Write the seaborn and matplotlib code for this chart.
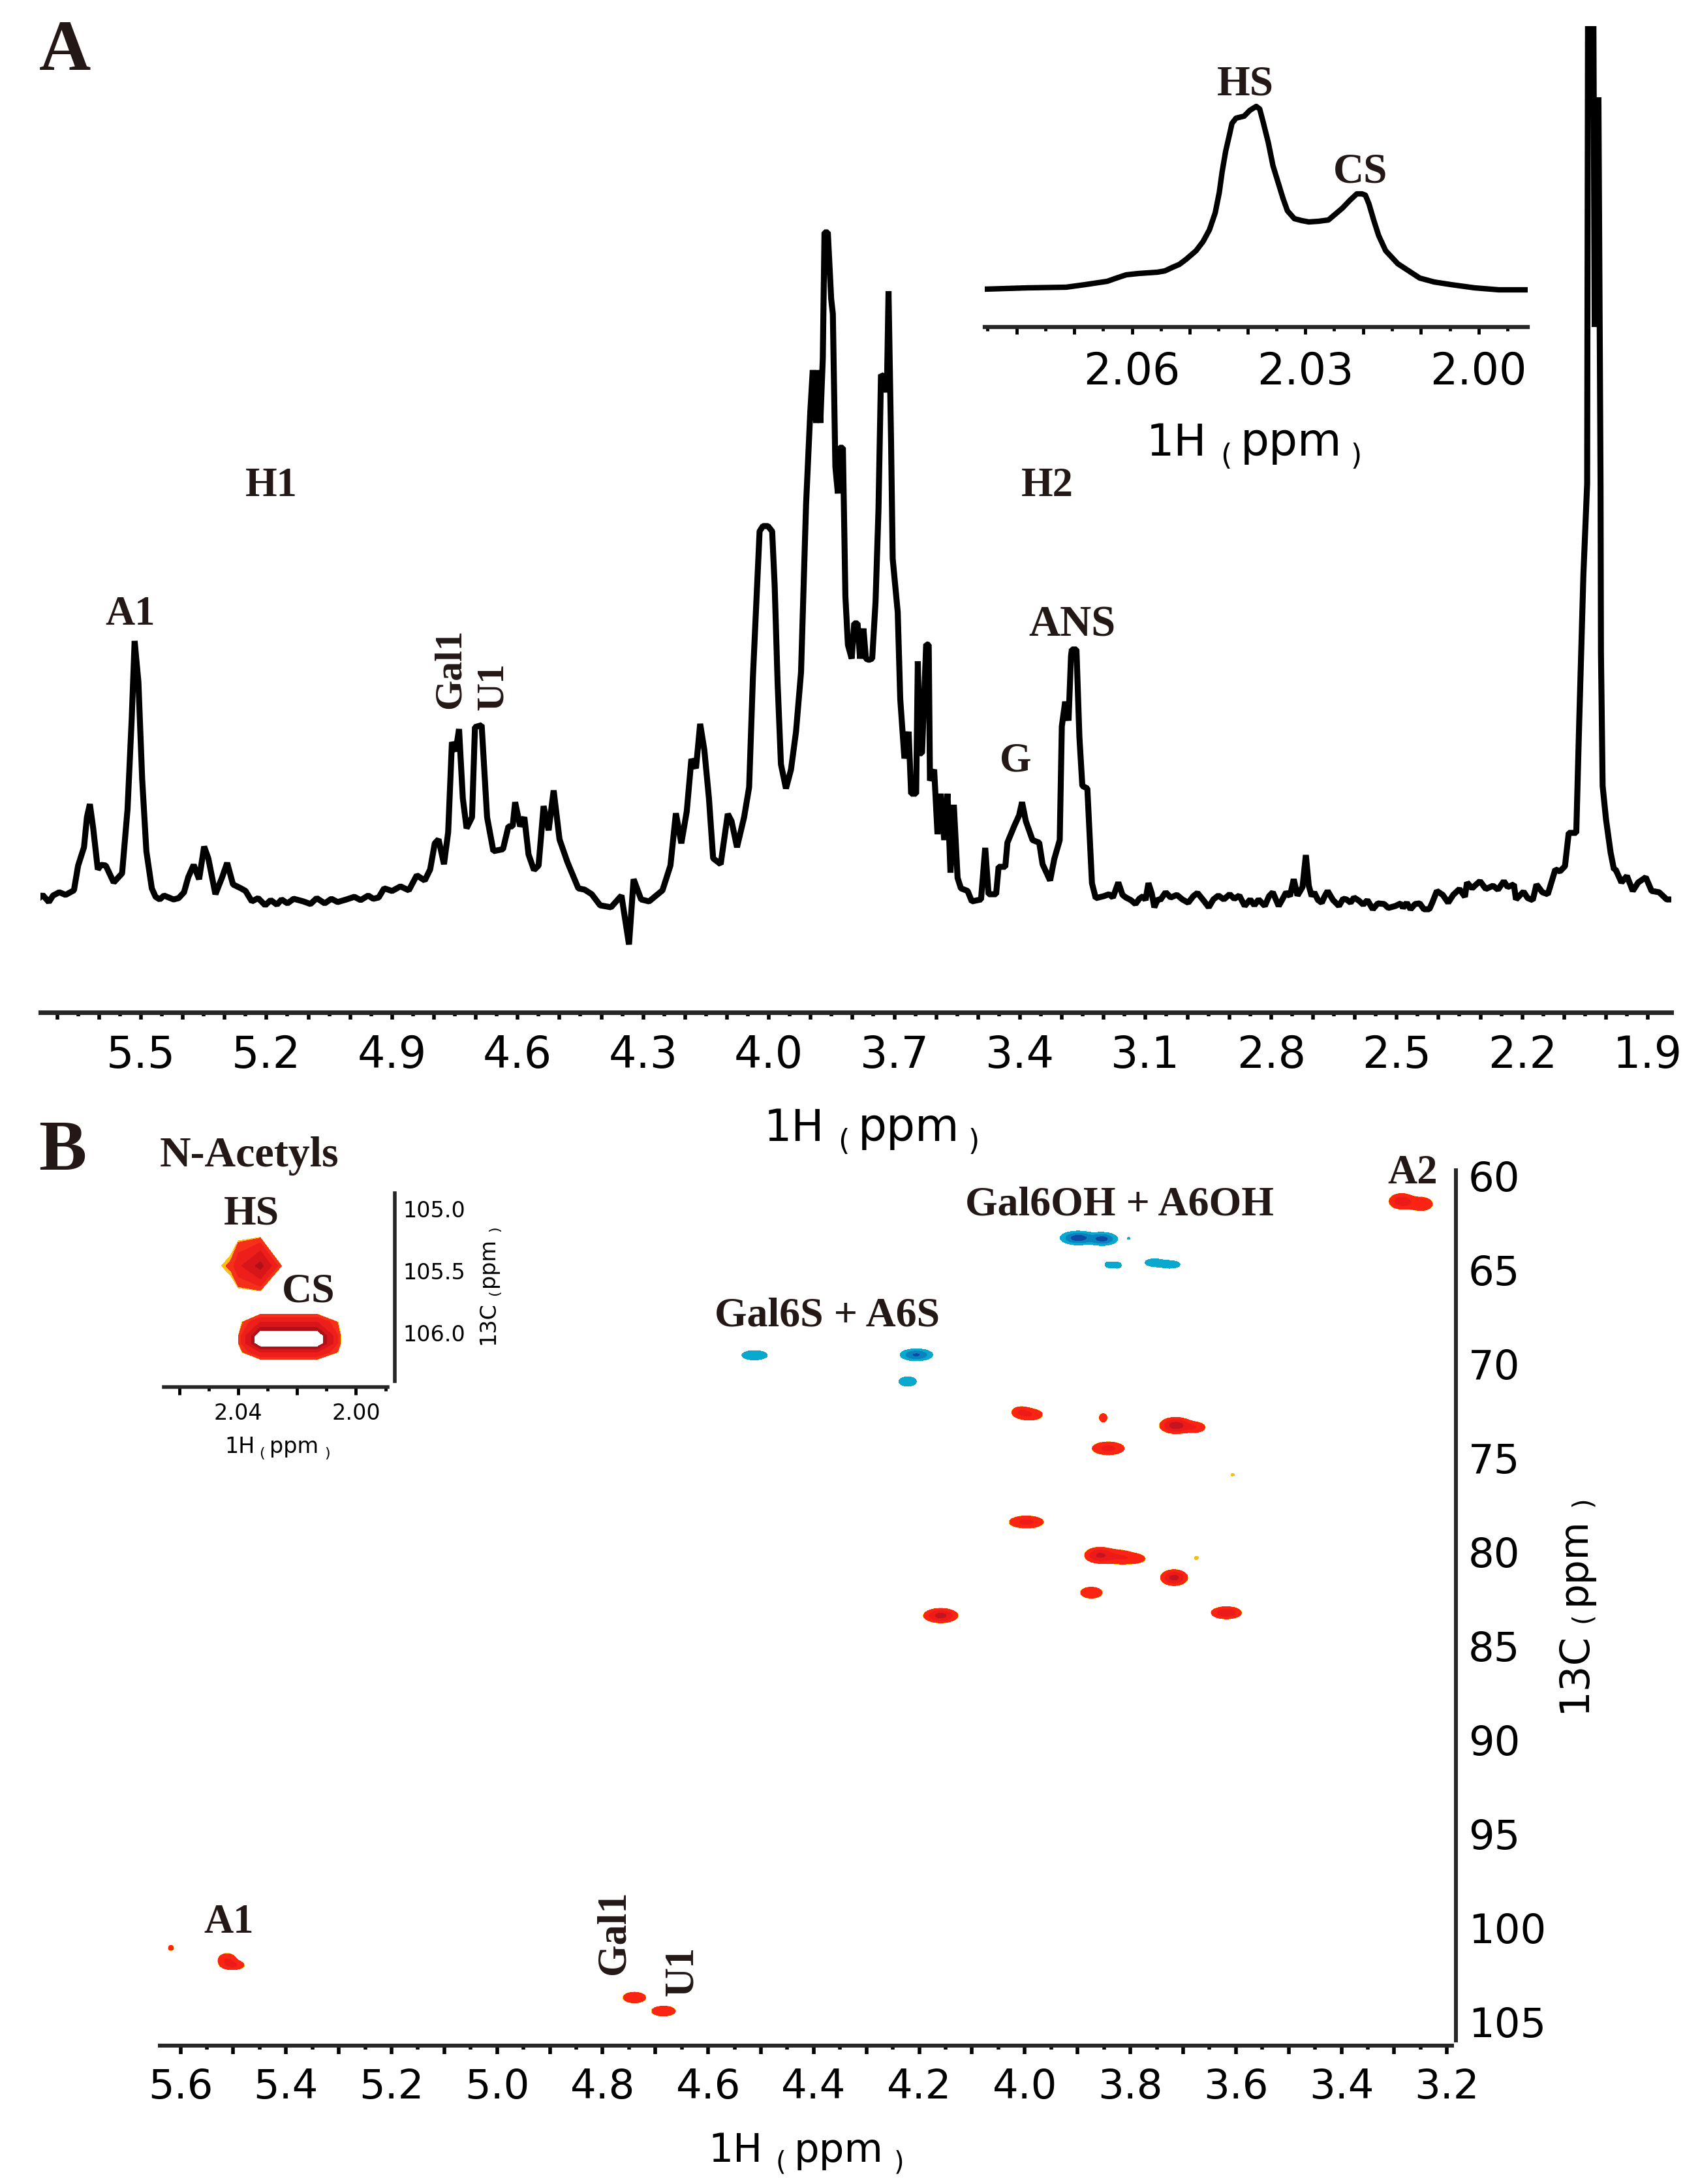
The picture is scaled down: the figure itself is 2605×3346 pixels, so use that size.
"""Recreate the 1H spectrum and 1H-13C HSQC figure."""
import matplotlib.pyplot as plt
import numpy as np
import seaborn as sns
from matplotlib.ticker import FixedLocator
from matplotlib.transforms import ScaledTranslation

W, H = 2605, 3346

sns.set_theme(style='ticks')
plt.rcParams['font.family'] = ['DejaVu Sans']

INK = '#231815'

# panel A, main trace (ppm, intensity), split in four stretches
anomeric_ppm = [
    5.745, 5.735, 5.72, 5.71, 5.695, 5.68, 5.66, 5.65, 5.636, 5.629, 5.622, 5.614, 5.603, 5.595, 5.584,
    5.565, 5.545, 5.532, 5.522, 5.515, 5.506, 5.497, 5.487, 5.474, 5.465, 5.455, 5.445, 5.422, 5.41, 5.397,
    5.387, 5.374, 5.361, 5.349, 5.339, 5.322, 5.306, 5.294, 5.28, 5.261, 5.25, 5.235, 5.22, 5.203, 5.19,
    5.175, 5.164, 5.15, 5.135, 5.112, 5.095, 5.08, 5.061, 5.045, 5.03, 5.009, 4.99, 4.975, 4.957, 4.945,
    4.932, 4.919, 4.9, 4.88, 4.86, 4.841, 4.822, 4.809, 4.798, 4.789, 4.776, 4.766, 4.757, 4.748, 4.74,
    4.731, 4.722, 4.709, 4.702, 4.686, 4.673, 4.658, 4.635, 4.622, 4.612, 4.606, 4.594, 4.584, 4.574, 4.561,
    4.55, 4.538, 4.526, 4.514, 4.5, 4.481, 4.455, 4.44, 4.423, 4.403, 4.377, 4.352, 4.334, 4.323, 4.305,
    4.286, 4.254, 4.235, 4.222, 4.209, 4.196, 4.185, 4.174, 4.164, 4.154, 4.143, 4.133, 4.115, 4.098, 4.089,
    4.076, 4.059, 4.047,
]
anomeric_int = [
    4, 10, -1, 9, 14, 10, 17, 55, 83, 129, 149, 112, 49, 56, 55,
    29, 43, 141, 280, 399, 336, 187, 77, 20, 7, 3, 9, 3, 5, 14,
    37, 56, 34, 84, 66, 11, 37, 59, 26, 20, 16, 0, 5, -6, 2,
    -5, 3, -3, 4, 0, -4, 5, -3, 4, -1, 3, 7, 2, 9, 4,
    6, 20, 16, 23, 17, 40, 32, 49, 89, 95, 57, 106, 244, 230, 264,
    158, 112, 129, 267, 270, 129, 77, 80, 115, 115, 152, 115, 129, 72, 48,
    55, 146, 109, 170, 95, 60, 20, 18, 11, -6, -9, 9, -66, 34, 3,
    0, 17, 55, 135, 89, 138, 218, 204, 272, 232, 158, 66, 57, 134, 123,
    83, 129, 175,
]
ring_ppm = [
    4.038, 4.022, 4.014, 4.002, 3.992, 3.986, 3.979, 3.971, 3.959, 3.947, 3.935, 3.923, 3.911, 3.901, 3.895,
    3.887, 3.883, 3.877, 3.871, 3.867, 3.859, 3.851, 3.847, 3.841, 3.835, 3.831, 3.823, 3.817, 3.811, 3.802,
    3.796, 3.788, 3.782, 3.774, 3.768, 3.761, 3.753, 3.745, 3.738, 3.732, 3.724, 3.718, 3.714, 3.708, 3.704,
    3.692, 3.686, 3.676, 3.666, 3.66, 3.648, 3.644, 3.639, 3.634, 3.624, 3.618, 3.615, 3.605, 3.597, 3.589,
    3.581, 3.573, 3.566, 3.558, 3.549, 3.541, 3.525, 3.515, 3.493, 3.483, 3.475, 3.457, 3.451, 3.435, 3.43,
    3.414, 3.402, 3.395, 3.386, 3.37, 3.354, 3.346, 3.328, 3.318, 3.305, 3.3, 3.292, 3.284, 3.278, 3.276,
    3.265, 3.258, 3.251, 3.239, 3.228, 3.219,
]
ring_int = [
    343, 567, 575, 575, 567, 484, 335, 210, 173, 202, 260, 351, 608, 749, 814,
    733, 814, 733, 832, 1025, 1025, 923, 900, 666, 625, 695, 695, 467, 393, 372,
    426, 426, 372, 418, 372, 370, 372, 459, 600, 807, 803, 780, 935, 708, 525,
    443, 310, 219, 260, 165, 165, 368, 227, 227, 394, 393, 185, 202, 103, 165,
    94, 165, 44, 148, 36, 20, 16, 0, 3, 82, 11, 11, 53, 53, 90,
    115, 132, 152, 123, 94, 90, 57, 32, 65, 94, 268, 306, 277, 376, 386,
    386, 252, 177, 173, 28, 5,
]
baseline_ppm = [
    3.2, 3.187, 3.178, 3.165, 3.155, 3.147, 3.135, 3.124, 3.115, 3.106, 3.1, 3.093, 3.085, 3.079, 3.07,
    3.065, 3.052, 3.04, 3.025, 3.012, 2.998, 2.986, 2.976, 2.962, 2.949, 2.938, 2.926, 2.913, 2.899, 2.888,
    2.876, 2.863, 2.85, 2.84, 2.83, 2.815, 2.805, 2.796, 2.782, 2.774, 2.764, 2.755, 2.746, 2.737, 2.725,
    2.717, 2.71, 2.703, 2.697, 2.688, 2.679, 2.672, 2.665, 2.652, 2.638, 2.628, 2.62, 2.61, 2.602, 2.59,
    2.58, 2.57, 2.557, 2.545, 2.53, 2.52, 2.503, 2.49, 2.485, 2.476, 2.467, 2.456, 2.445, 2.435, 2.422,
    2.415, 2.404, 2.39, 2.377, 2.365, 2.35, 2.337, 2.332, 2.32, 2.31, 2.301, 2.287, 2.27, 2.258, 2.244,
    2.235, 2.22, 2.215, 2.197, 2.187, 2.175, 2.166, 2.152, 2.139, 2.13, 2.121, 2.11, 2.098, 2.089, 2.071,
]
baseline_int = [
    8, 11, 6, 29, 10, 6, 2, -4, 4, 8, 2, 28, 12, -9, 4,
    2, 14, 6, 10, 3, -2, 8, 13, 2, -9, 3, 9, 3, 11, 4,
    9, -7, 3, -6, 3, -7, 8, 14, -7, 2, 14, 8, 34, 9, 22,
    71, 24, 8, 14, 2, -2, 8, 16, 2, -7, 4, 3, -2, 6, 1,
    -5, 2, -12, -3, -4, -10, -7, -3, -10, -2, -12, -4, -3, -12, -12,
    -2, 16, 10, -2, 10, 19, 7, 29, 20, 26, 31, 19, 24, 18, 31,
    22, 26, 3, 15, 5, 2, 26, 14, 11, 30, 49, 46, 54, 105, 105,
]
acetyl_ppm = [
    2.064, 2.054, 2.045, 2.044, 2.043, 2.03, 2.027, 2.018, 2.016, 2.013, 2.012, 2.008, 2.0, 1.989, 1.981,
    1.977, 1.963, 1.95, 1.936, 1.923, 1.905, 1.891, 1.873, 1.855, 1.846,
]
acetyl_int = [
    274, 500, 640, 1000, 1345, 1345, 880, 1232, 1000, 640, 381, 177, 126, 75, 49,
    49, 29, 39, 16, 29, 37, 16, 14, 3, 3,
]

# panel A, N-acetyl region inset
inset_ppm = [
    2.0855, 2.0781, 2.0714, 2.0681, 2.0643, 2.0627, 2.061, 2.0589, 2.0556, 2.0543, 2.0531, 2.0518, 2.0506,
    2.0489, 2.0477, 2.0466, 2.0456, 2.0449, 2.0444, 2.0438, 2.0431, 2.0427, 2.042, 2.0406, 2.0396, 2.0385,
    2.0379, 2.0373, 2.0364, 2.0356, 2.0348, 2.0339, 2.0331, 2.0319, 2.0306, 2.0294, 2.0277, 2.026, 2.0248,
    2.0236, 2.0223, 2.0211, 2.0202, 2.0196, 2.019, 2.0181, 2.0173, 2.0161, 2.014, 2.0102, 2.0077, 2.0048,
    2.0007, 1.9965, 1.9915,
]
inset_int = [
    1, 3, 4, 8, 13, 18, 23, 25, 27, 29, 34, 39, 47,
    60, 74, 92, 118, 149, 181, 212, 239, 255, 263, 266, 275, 281,
    277, 257, 225, 190, 167, 141, 121, 109, 106, 104, 105, 107, 116,
    125, 137, 147, 147, 145, 132, 105, 83, 60, 40, 18, 12, 8,
    3, 0, 0,
]

# panel B, HSQC cross peaks: 1H, 13C, half widths, signed height
peak_h = [3.286, 3.249, 3.899, 3.853, 3.841, 3.825, 3.803, 3.755, 3.725, 4.512, 4.2055, 4.222,
          4.008, 3.99, 3.8515, 3.714, 3.678, 3.842, 3.606, 3.997, 3.858, 3.822, 3.791, 3.675,
          3.717, 3.874, 4.1593, 3.618, 5.618, 5.5116, 5.499, 4.7397, 4.6845]
peak_c = [61.1, 61.24, 63.05, 63.1, 64.47, 64.5, 63.07, 64.36, 64.46, 69.29, 69.27, 70.69,
          72.3, 72.45, 72.62, 73.03, 73.13, 74.25, 75.65, 78.17, 79.94, 80.03, 80.12, 80.08,
          81.13, 81.93, 83.15, 83.0, 100.84, 101.48, 101.76, 103.48, 104.2]
peak_hw = [0.024, 0.022, 0.034, 0.029, 0.007, 0.008, 0.002, 0.017, 0.019, 0.024, 0.031, 0.0165,
           0.015, 0.024, 0.0075, 0.031, 0.02, 0.031, 0.003, 0.033, 0.029, 0.026, 0.019, 0.004,
           0.026, 0.021, 0.033, 0.029, 0.005, 0.017, 0.02, 0.022, 0.023]
peak_cw = [0.42, 0.36, 0.37, 0.35, 0.15, 0.16, 0.05, 0.2, 0.2, 0.25, 0.32, 0.25,
           0.25, 0.3, 0.23, 0.44, 0.28, 0.35, 0.07, 0.33, 0.43, 0.36, 0.23, 0.09,
           0.43, 0.3, 0.39, 0.33, 0.14, 0.35, 0.23, 0.29, 0.27]
peak_height = [5, 3, -9, -8, -2, -2, -1.05, -2.5, -2.5, -3, -7, -3,
               2.5, 3, 2.5, 9, 3, 4, 1.05, 4, 7, 3, 2, 1.05,
               8, 3, 8, 6, 1.6, 3, 3, 3, 3]

# panel B inset, contour heights on the spectrometer's coarse grid
grid_h = [2.0518, 2.0426, 2.04, 2.0325, 2.0245, 2.0131, 2.0046]
grid_c = [105.208, 105.461, 105.683, 105.838, 105.915, 106.026, 106.087, 106.158, 106.228]
grid_z = [
    [0, 0, 0, 0, 0, 0, 0],
    [0, 1.5, 5, 11.5, 0, 0, 0],
    [0, 0, 0, 0, 0, 0, 0],
    [0, 0, 0, 0, 0, 0, 0],
    [0, 0, 0, 6, 6, 6, 0],
    [0, 0, 1, 16, 16, 16, 0],
    [0, 0, 1, 16, 16, 16, 0],
    [0, 0, 0, 6, 6, 6, 0],
    [0, 0, 0, 0, 0, 0, 0],
]

spectrum_ticks = ['5.5', '5.2', '4.9', '4.6', '4.3', '4.0', '3.7', '3.4', '3.1', '2.8', '2.5', '2.2', '1.9']
acetyl_ticks = ['2.06', '2.03', '2.00']
hsqc_h_ticks = ['5.6', '5.4', '5.2', '5.0', '4.8', '4.6', '4.4', '4.2', '4.0', '3.8', '3.6', '3.4', '3.2']
hsqc_c_ticks = [60, 65, 70, 75, 80, 85, 90, 95, 100, 105]
inset_h_ticks = ['2.04', '2.00']
inset_c_ticks = ['105.0', '105.5', '106.0']

RED_BANDS = ['#fbbf10', '#fb2412', '#ec1a18', '#c41420']
BLUE_BANDS = ['#10a9cc', '#08a8cf', '#0a82bd', '#0c4aa5']
PEAK_LEVELS = [1, 1.1, 3.2, 6.5, 1000]
INSET_COLORS = ['#fbbf10', '#f5301a', '#ee1f1a', '#d81518', '#b01018']


def axes_px(left, top, right, bottom):
    """Axes placed by pixel edges of the final image."""
    ax = plt.gcf().add_axes([left / W, 1 - bottom / H, (right - left) / W, (bottom - top) / H])
    ax.patch.set_visible(False)
    return ax


def label(x, y, text, size=45, rotation=0):
    """Bold serif peak label centred on a pixel position."""
    if rotation:
        x += 2
    else:
        y += 5
    plt.gcf().text(x / W, 1 - y / H, text, fontsize=size, fontweight='bold', color=INK,
                   family='Liberation Serif', ha='center', va='center', rotation=rotation)


def ppm_label(x, y, offsets, sizes, drop, rotation=0):
    """Axis title with its small brackets, pieces placed along the baseline."""
    for text, offset, size in zip(('1H' if rotation == 0 else '13C', '(', 'ppm', ')'), offsets, sizes):
        small = text in '()'
        if rotation:
            tx, ty = x + (drop if small else 0), y - offset
        else:
            tx, ty = x + offset, y + (drop if small else 0)
        plt.gcf().text(tx / W, 1 - ty / H, text, fontsize=size, color='black', ha='left',
                       va='baseline', rotation=rotation, rotation_mode='anchor')


def style_axis(ax, axis, major, minor, labels, size, lw, major_len, minor_len, width, pad):
    """Thick axis with labelled and blank major ticks plus small minor ticks."""
    target = ax.xaxis if axis == 'x' else ax.yaxis
    target.set_major_locator(FixedLocator(major))
    target.set_minor_locator(FixedLocator(minor))
    target.set_ticklabels(labels)
    ax.tick_params(axis=axis, which='major', length=major_len, width=width, labelsize=size,
                   pad=pad, color='black', labelcolor='black')
    ax.tick_params(axis=axis, which='minor', length=minor_len, width=width, color='black')
    for side in ax.spines.values():
        side.set_linewidth(lw)


def blank_between(major, shown):
    return [t if t in shown else '' for t in ['%.1f' % m for m in major]]


fig = plt.figure(figsize=(W / 100, H / 100), dpi=100)

# --- panel A
ax = axes_px(62, 40, 2561, 1551)
sns.lineplot(x=anomeric_ppm + ring_ppm + baseline_ppm + acetyl_ppm,
             y=anomeric_int + ring_int + baseline_int + acetyl_int,
             sort=False, estimator=None, color='black', linewidth=6.6, ax=ax)
ax.lines[0].set_solid_joinstyle('bevel')
ax.set_xlim(5.74, 1.844)
ax.set_ylim(-170, 1341)
ax.set(xlabel='', ylabel='')
ax.set_yticks([])
sns.despine(ax=ax, left=True)
major = np.round(np.arange(5.7, 1.85, -0.1), 1)
style_axis(ax, 'x', major, np.round(np.arange(5.65, 1.85, -0.1), 2),
           blank_between(major, spectrum_ticks), 48, 5, 8, 4, 4, 16)

ax = axes_px(1509, 100, 2341, 501)
sns.lineplot(x=inset_ppm, y=inset_int, sort=False, estimator=None, color='black', linewidth=6, ax=ax)
ax.set_xlim(2.0855, 1.9915)
ax.set_ylim(-57, 344)
ax.set(xlabel='', ylabel='')
ax.set_yticks([])
sns.despine(ax=ax, left=True)
major = np.round(np.arange(2.08, 1.99, -0.01), 2)
style_axis(ax, 'x', major, np.round(np.arange(2.085, 1.991, -0.01), 3),
           [t if t in acetyl_ticks else '' for t in ['%.2f' % m for m in major]], 48, 4.5, 8, 4, 3.5, 18)

# --- panel B
ax = axes_px(245, 1793, 2231, 3134)
grid_x = np.linspace(3.18, 5.64, 2000)
grid_y = np.linspace(59.4, 106.1, 1350)
mesh_x, mesh_y = np.meshgrid(grid_x, grid_y)
red_field = np.zeros(mesh_x.shape)
blue_field = np.zeros(mesh_x.shape)
for h, c, hw, cw, height in zip(peak_h, peak_c, peak_hw, peak_cw, peak_height):
    r2 = ((mesh_x - h) / hw) ** 2 + ((mesh_y - c) / cw) ** 2
    blob = abs(height) ** (1 - r2)
    if height > 0:
        red_field += blob
    else:
        blue_field += blob
ax.contourf(mesh_x, mesh_y, red_field, levels=PEAK_LEVELS, colors=RED_BANDS)
ax.contourf(mesh_x, mesh_y, blue_field, levels=PEAK_LEVELS, colors=BLUE_BANDS)
ax.set_xlim(5.639, 3.183)
ax.set_ylim(106.04, 59.45)
ax.yaxis.tick_right()
sns.despine(ax=ax, left=True, top=True, right=False)
major = np.round(np.arange(5.6, 3.18, -0.1), 1)
style_axis(ax, 'x', major, np.round(np.arange(5.55, 3.18, -0.1), 2),
           blank_between(major, hsqc_h_ticks), 45, 4.3, 9.4, 4.3, 4, 15)
style_axis(ax, 'y', hsqc_c_ticks, [t + 2.5 for t in hsqc_c_ticks[:-1]],
           [str(t) for t in hsqc_c_ticks], 45, 4.3, 8.6, 4, 3.6, 5)
ax.spines['bottom'].set_bounds(5.639, 3.19)
ax.spines['right'].set_bounds(105.77, 59.45)
# the 13C numbers sit a little above their ticks
for tick_label in ax.get_yticklabels():
    tick_label.set_transform(tick_label.get_transform() + ScaledTranslation(0, 7 / 100, fig.dpi_scale_trans))

ax = axes_px(251, 1828, 604.5, 2125)
ax.contourf(grid_h, grid_c, np.array(grid_z), levels=[1, 1.25, 3, 6, 10, 12], colors=INSET_COLORS)
ax.set_xlim(2.0653, 1.9869)
ax.set_ylim(106.44, 104.873)
ax.yaxis.tick_right()
sns.despine(ax=ax, left=True, top=True, right=False)
style_axis(ax, 'x', [2.06, 2.04, 2.02, 2.00], [2.05, 2.03, 2.01, 1.99],
           ['', inset_h_ticks[0], '', inset_h_ticks[1]], 24, 4, 8.5, 4, 3.5, 9)
style_axis(ax, 'y', [105.0, 105.5, 106.0], [105.25, 105.75, 106.25], inset_c_ticks, 24, 4, 8, 3.5, 3.2, 1)
ax.spines['bottom'].set_bounds(2.0653, 1.9893)
ax.spines['right'].set_bounds(106.39, 104.873)

# --- axis titles
full = (0, 113, 144, 312)
ppm_label(1757, 698, full, (48, 32, 50, 32), 14)
ppm_label(1171, 1748, full, (48, 32, 50, 32), 14)
ppm_label(1085, 3312, (0, 103, 132, 285), (43, 29, 44, 29), 13)
ppm_label(344, 2226, (0, 53, 69, 153), (24, 16, 24, 16), 7)
ppm_label(2429, 2624, (0, 138, 165, 316), (45, 29, 43, 29), 7, rotation=90)
ppm_label(757, 2060, (0, 75, 88, 173), (24, 16, 24, 16), 7, rotation=90)

# --- peak labels
label(100, 75, 'A', 79)
label(96, 1760, 'B', 79)
label(200, 937, 'A1')
label(416, 740, 'H1')
label(1605, 740, 'H2')
label(1643, 953, 'ANS', 48)
label(1556, 1162, 'G')
label(689, 1025, 'Gal1', 43, 90)
label(754, 1052, 'U1', 43, 90)
label(1908, 124, 'HS', 47)
label(2085, 258, 'CS', 47)
label(382, 1766, 'N-Acetyls', 47.5)
label(385, 1855, 'HS', 46)
label(473, 1975, 'CS', 46)
label(1715, 1841, 'Gal6OH + A6OH', 46)
label(1268, 2012, 'Gal6S + A6S', 46)
label(2165, 1793, 'A2', 45)
label(351, 2941, 'A1', 45)
label(940, 2961, 'Gal1', 45, 90)
label(1044, 3020, 'U1', 45, 90)

plt.savefig('out.png', dpi=100)
